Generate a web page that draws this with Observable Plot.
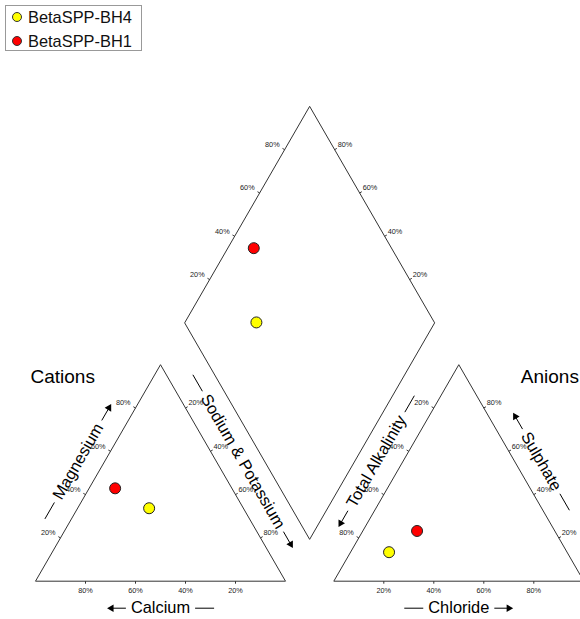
<!DOCTYPE html>
<html><head><meta charset="utf-8">
<script src="https://cdn.jsdelivr.net/npm/d3@7"></script>
<script src="https://cdn.jsdelivr.net/npm/@observablehq/plot@0.6"></script>
<style>
body{margin:0;background:#fff;font-family:"Liberation Sans",Arial,sans-serif}
#wrap{position:relative;width:580px;height:619px}
#legend{position:absolute;left:5px;top:5px;width:137px;height:46px;box-sizing:border-box;border:1px solid #999;background:#fff}
.row{position:absolute;left:0;height:20px;width:100%}
.sw{position:absolute;left:6px;top:5px;width:10px;height:10px;border-radius:50%;box-sizing:border-box;border:1px solid #333}
.lb{position:absolute;left:22px;top:0;font-size:16.4px;line-height:20px;color:#111}
</style>
</head><body>
<div id="wrap"><div id="chart"></div><div id="legend"></div></div>
<script>
// ---- data ----
const samples = ["BetaSPP-BH4", "BetaSPP-BH1"];
const sampleColors = ["#ffff00", "#ff0000"];
const calcium = [37.7, 46.7];
const magnesium = [33.7, 42.9];
const sodiumPotassium = [28.6, 10.4];
const chloride = [15.4, 21.7];
const sulphate = [13.4, 23.2];
const alkalinity = [71.2, 55.1];
const tickValues = [20, 40, 60, 80];
const tickLabels = ["20%", "40%", "60%", "80%"];

// ---- geometry ----
const W = 580, H = 619;
const FONT = '"Liberation Sans", Arial, sans-serif';
const S3 = Math.sqrt(3) / 2;
const side = 250, th = side * S3, baseY = 580.7, cx0 = 35, ax0 = 333.3;
const gap = ax0 - (cx0 + side);
const cL = [cx0, baseY], cR = [cx0 + side, baseY], cT = [cx0 + side / 2, baseY - th];
const aL = [ax0, baseY], aR = [ax0 + side, baseY], aT = [ax0 + side / 2, baseY - th];
const dB = [cx0 + side + gap / 2, baseY - gap * S3];
const dL = [dB[0] - side / 2, dB[1] - th], dR = [dB[0] + side / 2, dB[1] - th], dT = [dB[0], dB[1] - 2 * th];
const lerp = (p, q, t) => [p[0] + (q[0] - p[0]) * t, p[1] + (q[1] - p[1]) * t];

// sample points
const points = [];
samples.forEach((s, i) => {
  const tc = calcium[i] + magnesium[i] + sodiumPotassium[i];
  const mg = magnesium[i] / tc, nak = sodiumPotassium[i] / tc;
  const ta = chloride[i] + sulphate[i] + alkalinity[i];
  const so4 = sulphate[i] / ta, cl = chloride[i] / ta, alk = alkalinity[i] / ta;
  const col = sampleColors[i];
  points.push({x: cx0 + side * (nak + mg / 2), y: baseY - th * mg, c: col});
  points.push({x: ax0 + side * (cl + so4 / 2), y: baseY - th * so4, c: col});
  const a = nak, c = alk;
  points.push({
    x: dB[0] + (1 - a) * (dL[0] - dB[0]) + (1 - c) * (dR[0] - dB[0]),
    y: dB[1] + (1 - a) * (dL[1] - dB[1]) + (1 - c) * (dR[1] - dB[1]),
    c: col
  });
});

// outlines
const edges = [];
const poly = (pts) => pts.forEach((p, i) => { const q = pts[(i + 1) % pts.length]; edges.push({x1: p[0], y1: p[1], x2: q[0], y2: q[1]}); });
poly([cL, cR, cT]); poly([aL, aR, aT]); poly([dB, dR, dT, dL]);

// percent labels + ticks
const labStart = [], labEnd = [], labMid = [], ticks = [];
function axisLabels(p0, p1, normal, list, dx, dy) {
  tickValues.forEach((v, k) => {
    const pt = lerp(p0, p1, v / 100);
    ticks.push({x1: pt[0], y1: pt[1], x2: pt[0] + normal[0] * 2.5, y2: pt[1] + normal[1] * 2.5});
    list.push({x: pt[0] + dx, y: pt[1] + dy, t: tickLabels[k]});
  });
}
const nUL = [-S3, -0.5], nUR = [S3, -0.5], nDown = [0, 1];
axisLabels(cL, cT, nUL, labEnd, -5, -5);      // Magnesium
axisLabels(cT, cR, nUR, labStart, 3, -5);     // Sodium & Potassium
axisLabels(cR, cL, nDown, labMid, 0, 9.5);    // Calcium
axisLabels(aT, aL, nUL, labEnd, -5, -5);      // Total Alkalinity
axisLabels(aR, aT, nUR, labStart, 3, -5);     // Sulphate
axisLabels(aL, aR, nDown, labMid, 0, 9.5);    // Chloride
axisLabels(dL, dT, nUL, labEnd, -5, -5);      // diamond upper-left
axisLabels(dR, dT, nUR, labStart, 3, -5);     // diamond upper-right

// axis titles with dash / arrow decorations
const ctx = document.createElement("canvas").getContext("2d");
const tw = (t, size) => { ctx.font = `${size}px ${FONT}`; return ctx.measureText(t).width; };
const TS = 16.4;
const off = 23;
const mid = (p, q) => lerp(p, q, 0.5);
const titles = [
  {t: "Magnesium", c: mid(cL, cT), n: nUL, ang: -60, pre: "dash", post: "arrow"},
  {t: "Sodium & Potassium", c: mid(cT, cR), n: nUR, ang: 60, pre: "dash", post: "arrow"},
  {t: "Calcium", c: [cT[0], baseY], n: [0, 1], ang: 0, pre: "arrow", post: "dash", o: 27},
  {t: "Total Alkalinity", c: mid(aL, aT), n: nUL, ang: -60, pre: "arrow", post: "dash"},
  {t: "Sulphate", c: mid(aT, aR), n: nUR, ang: 60, pre: "arrow", post: "dash"},
  {t: "Chloride", c: [aT[0], baseY], n: [0, 1], ang: 0, pre: "dash", post: "arrow", o: 27}
];
const shafts = [], heads = [];
const titleMarks = [];
titles.forEach(d => {
  const o = d.o ?? off;
  const cx = d.c[0] + d.n[0] * o, cy = d.c[1] + d.n[1] * o;
  const r = d.ang * Math.PI / 180, u = [Math.cos(r), Math.sin(r)];
  const hw = tw(d.t, TS) / 2, g = 5, L = 19;
  [[d.pre, -1], [d.post, 1]].forEach(([kind, s]) => {
    const a0 = hw + g, a1 = hw + g + L;
    const p0 = [cx + s * u[0] * a0, cy + s * u[1] * a0];
    const p1 = [cx + s * u[0] * a1, cy + s * u[1] * a1];
    if (kind === "dash") {
      shafts.push({x1: p0[0], y1: p0[1], x2: p1[0], y2: p1[1]});
    } else {
      const e = [p1[0] - s * u[0] * 4, p1[1] - s * u[1] * 4];
      shafts.push({x1: p0[0], y1: p0[1], x2: e[0], y2: e[1]});
      const hc = [p1[0] - s * u[0] * 4.5, p1[1] - s * u[1] * 4.5];
      const dirDeg = Math.atan2(s * u[1], s * u[0]) * 180 / Math.PI;
      heads.push({x: hc[0], y: hc[1], rot: dirDeg + 90});
    }
  });
  titleMarks.push(Plot.text([d], {x: () => cx, y: () => cy, text: x => x.t, rotate: d.ang, fontSize: TS, fill: "#000"}));
});

const groupTitles = [
  {t: "Cations", x: cx0 - 5, y: cT[1] + 12},
  {t: "Anions", x: aT[0] + 62, y: aT[1] + 12}
];

const chart = Plot.plot({
  width: W, height: H,
  margin: 0,
  x: {domain: [0, W], range: [0, W], axis: null},
  y: {domain: [0, H], range: [0, H], axis: null},
  color: {type: "identity"},
  style: {fontFamily: FONT, background: "#fff"},
  marks: [
    Plot.link(edges, {x1: "x1", y1: "y1", x2: "x2", y2: "y2", stroke: "#333", strokeWidth: 1}),
    Plot.link(ticks, {x1: "x1", y1: "y1", x2: "x2", y2: "y2", stroke: "#333", strokeWidth: 1}),
    Plot.text(labEnd, {x: "x", y: "y", text: "t", textAnchor: "end", fontSize: 7.3, fill: "#222"}),
    Plot.text(labStart, {x: "x", y: "y", text: "t", textAnchor: "start", fontSize: 7.3, fill: "#222"}),
    Plot.text(labMid, {x: "x", y: "y", text: "t", textAnchor: "middle", fontSize: 7.3, fill: "#222"}),
    ...titleMarks,
    Plot.link(shafts, {x1: "x1", y1: "y1", x2: "x2", y2: "y2", stroke: "#000", strokeWidth: 1}),
    Plot.dot(heads, {x: "x", y: "y", symbol: "triangle2", r: 3.6, rotate: "rot", fill: "#000", stroke: "none"}),
    Plot.text(groupTitles, {x: "x", y: "y", text: "t", textAnchor: "start", fontSize: 19, fill: "#000"}),
    Plot.dot(points, {x: "x", y: "y", r: 5.5, fill: "c", stroke: "#222", strokeWidth: 1})
  ]
});
document.getElementById("chart").appendChild(chart);

// legend
const leg = document.getElementById("legend");
samples.forEach((s, i) => {
  const row = document.createElement("div");
  row.className = "row";
  row.style.top = (1 + i * 24) + "px";
  const sw = document.createElement("span");
  sw.className = "sw"; sw.style.background = sampleColors[i];
  const lb = document.createElement("span");
  lb.className = "lb"; lb.textContent = s;
  row.appendChild(sw); row.appendChild(lb);
  leg.appendChild(row);
});
</script>
</body></html>
